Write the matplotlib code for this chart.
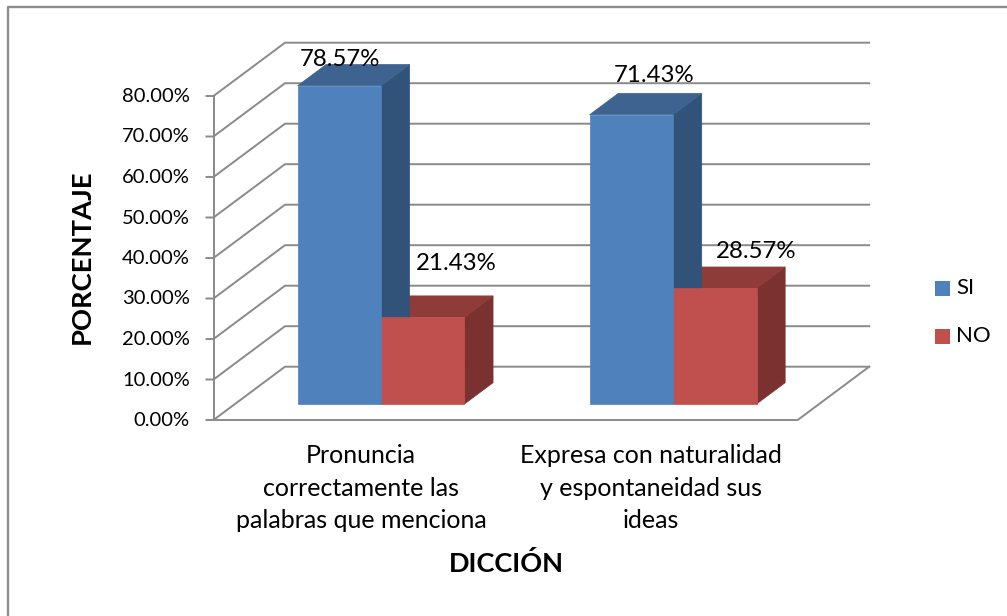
import matplotlib
matplotlib.use("Agg")
import matplotlib.pyplot as plt
from matplotlib.patches import Polygon, Rectangle

categories = ["Pronuncia\ncorrectamente las\npalabras que menciona",
              "Expresa con naturalidad\ny espontaneidad sus\nideas"]
si_values = [78.57, 71.43]
no_values = [21.43, 28.57]
y_ticks = [0, 10, 20, 30, 40, 50, 60, 70, 80]

plt.rcParams['font.family'] = ['Lato', 'DejaVu Sans']

GRID = "#8a8a8a"
X0, Y0 = 213.5, 420.0      # front left corner of the floor, pixels
CAT_W = 292.1              # width of one category
PX_PER = 4.05              # pixels per percent
DX, DY = 71.5, -53.3       # depth of the whole box
BAR_W = CAT_W / 3.5
D0, D1 = 0.3, 0.7          # bars sit between these depths


def proj(c, v, d=0.0):
    # category position, value, depth -> pixel position
    return (X0 + c * CAT_W + d * DX, Y0 - v * PX_PER + d * DY)


def draw_bar(ax, left, value, front, top, side):
    right = left + BAR_W / CAT_W
    ax.add_patch(Polygon([proj(right, 0, D0), proj(right, 0, D1), proj(right, value, D1), proj(right, value, D0)],
                         facecolor=side, edgecolor=side, lw=0.5, zorder=3))
    ax.add_patch(Polygon([proj(left, value, D0), proj(right, value, D0), proj(right, value, D1), proj(left, value, D1)],
                         facecolor=top, edgecolor=top, lw=0.5, zorder=3))
    ax.add_patch(Polygon([proj(left, 0, D0), proj(right, 0, D0), proj(right, value, D0), proj(left, value, D0)],
                         facecolor=front, edgecolor=front, lw=0.5, zorder=4))


fig = plt.figure(figsize=(10.07, 6.16), dpi=100)
ax = fig.add_axes([0, 0, 1, 1])
ax.set_xlim(0, 1007)
ax.set_ylim(616, 0)
ax.axis("off")

# chart frame, only top and left show
ax.plot([8, 8, 1007], [616, 6.5, 6.5], color="#8c8c8c", lw=1.7, zorder=1)

# walls and floor
for v in y_ticks:
    fx, fy = proj(0, v)
    bx, by = proj(0, v, 1)
    ex, ey = proj(2, v, 1)
    ax.plot([fx - 7, fx, bx, ex], [fy, fy, by, ey], color=GRID, lw=1.4, zorder=2)
    ax.text(190, fy + 0.5, f"{v:.2f}%", ha="right", va="center", fontsize=14.5, color="black")
ax.plot(*zip(proj(0, 0), proj(0, 80)), color=GRID, lw=1.4, zorder=2)
ax.plot(*zip(proj(0, 0), proj(2, 0), proj(2, 0, 1)), color=GRID, lw=1.4, zorder=2)

# bars, red first so the blue front stays on top
for i in range(2):
    left = i + (CAT_W - 2 * BAR_W) / 2 / CAT_W
    mid = left + BAR_W / CAT_W
    draw_bar(ax, mid, no_values[i], "#c0504d", "#8f3b39", "#7b3130")
    draw_bar(ax, left, si_values[i], "#4f81bd", "#3e6390", "#325379")

# data labels
label_pos = [(340, 60), (456, 264), (654, 75.5), (756, 251.5)]
label_vals = [si_values[0], no_values[0], si_values[1], no_values[1]]
for (lx, ly), val in zip(label_pos, label_vals):
    ax.text(lx, ly, f"{val:.2f}%", ha="center", va="center", fontsize=17.3, color="black", zorder=5)

# category labels
ax.text(361, 488, categories[0], ha="center", va="center", fontsize=18, linespacing=1.52)
ax.text(651, 488, categories[1], ha="center", va="center", fontsize=18, linespacing=1.52)

# axis titles
ax.text(82, 257, "PORCENTAJE", rotation=90, ha="center", va="center", fontsize=19.7, fontweight="bold")
ax.text(506, 564, "DICCIÓN", ha="center", va="center", fontsize=19.5, fontweight="bold")

# legend
ax.add_patch(Rectangle((935, 281), 15, 15, facecolor="#4f81bd", edgecolor="none"))
ax.add_patch(Rectangle((935, 329), 15, 15, facecolor="#c0504d", edgecolor="none"))
ax.text(956, 288.5, "SI", ha="left", va="center", fontsize=16)
ax.text(956, 336.5, "NO", ha="left", va="center", fontsize=16)

fig.savefig("out.png", dpi=100)
